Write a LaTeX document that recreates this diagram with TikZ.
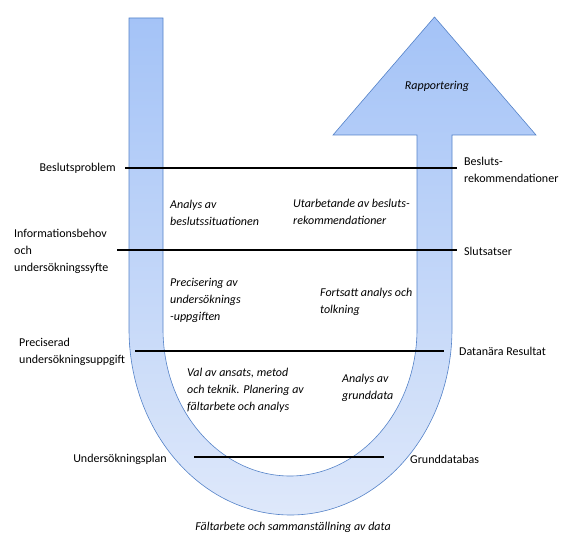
\documentclass[tikz,border=0pt]{standalone}
\usepackage{fontspec}
\setmainfont{Carlito}
\definecolor{ftop}{RGB}{164,195,247}
\definecolor{fbot}{RGB}{222,232,250}
\definecolor{edge}{RGB}{84,130,200}
\begin{document}
\begin{tikzpicture}[x=1pt,y=1pt,
  lbl/.style={inner sep=0pt,align=left,font=\fontsize{12}{17}\selectfont},
  itl/.style={inner sep=0pt,align=left,font=\fontsize{12}{17}\selectfont\itshape},
  divider/.style={line width=1.4pt,black}]
\useasboundingbox (0,0) rectangle (583,552);
% U-shaped arrow
\path[shade,top color=ftop,bottom color=fbot,draw=edge,line width=0.6pt,line join=miter]
  (129,534) -- (129,223)
  arc[start angle=180,end angle=360,x radius=161.5,y radius=186]
  -- (452,417) -- (536,417) -- (434.5,535) -- (333,417) -- (417,417) -- (417,223)
  arc[start angle=0,end angle=-180,x radius=127,y radius=147]
  -- (163,534) -- cycle;
% divider end points
\coordinate (l1a) at (125,384); \coordinate (l1b) at (457,384);
\coordinate (l2a) at (117,302); \coordinate (l2b) at (457,302);
\coordinate (l3a) at (135,201); \coordinate (l3b) at (444,201);
\coordinate (l4a) at (194,95);  \coordinate (l4b) at (384,95);
\draw[divider] (l1a) -- (l1b);
\draw[divider] (l2a) -- (l2b);
\draw[divider] (l3a) -- (l3b);
\draw[divider] (l4a) -- (l4b);
% left labels
\node[lbl,anchor=east] (bp) at (116,384) {Beslutsproblem};
\node[lbl,anchor=west] (ib) at (14,301) {Informationsbehov\\och\\undersökningssyfte};
\node[lbl,anchor=west] (pu) at (19,200.5) {Preciserad\\undersökningsuppgift};
\node[lbl,anchor=east] (up) at (167,93) {Undersökningsplan};
% right labels
\node[lbl,anchor=west] (br) at (464,382.5) {Besluts-\\rekommendationer};
\node[lbl,anchor=west] (ss) at (464,301) {Slutsatser};
\node[lbl,anchor=west] (dr) at (459,201) {Datanära Resultat};
\node[lbl,anchor=west] (gd) at (410,93) {Grunddatabas};
% inner italic labels
\node[itl,anchor=west] (ab) at (170,339.5) {Analys av\\beslutssituationen};
\node[itl,anchor=west] (ub) at (293,340.5) {Utarbetande av besluts-\\rekommendationer};
\node[itl,anchor=west] (pr) at (170,252) {Precisering av\\undersöknings\\-uppgiften};
\node[itl,anchor=west] (fa) at (320,250.5) {Fortsatt analys och\\tolkning};
\node[itl,anchor=west] (va) at (187,162) {Val av ansats, metod\\och teknik. Planering av\\fältarbete och analys};
\node[itl,anchor=west] (ag) at (342,164.5) {Analys av\\grunddata};
\node[itl] (rap) at (437,466) {Rapportering};
\node[itl] (fs) at (293,25) {Fältarbete och sammanställning av data};
\end{tikzpicture}
\end{document}
